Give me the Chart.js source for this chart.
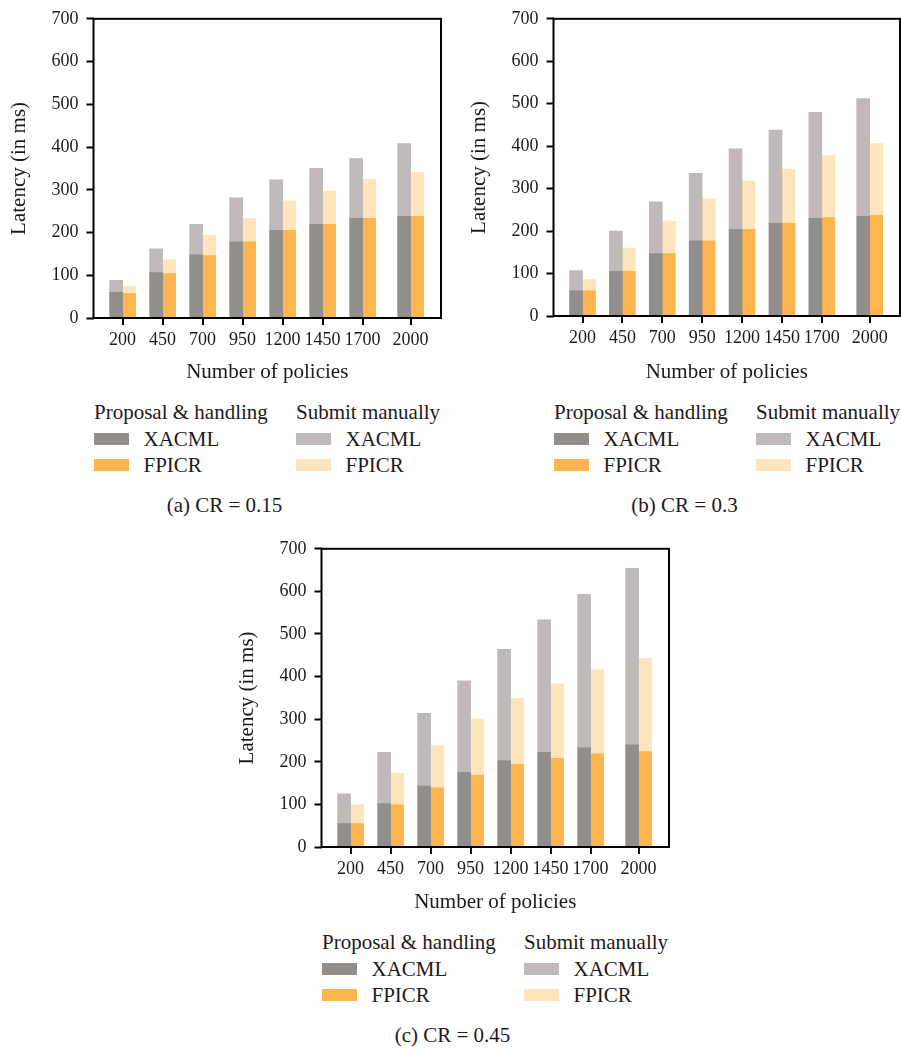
<!DOCTYPE html>
<html>
<head>
<meta charset="utf-8">
<script src="https://cdn.jsdelivr.net/npm/chart.js@4/dist/chart.umd.min.js"></script>
<style>
  html, body { margin: 0; padding: 0; background: #ffffff; }
  body { width: 901px; height: 1049px; position: relative; overflow: hidden;
         font-family: "Liberation Serif", "Times New Roman", serif; color: #1e1a1b; }
  canvas { position: absolute; }
  .txt { position: absolute; font-size: 21px; line-height: 24px; white-space: nowrap; }
  .sw { position: absolute; width: 35px; height: 12px; }
</style>
</head>
<body>
<canvas id="cA" width="450" height="390" style="left:0px;top:0px"></canvas>
<canvas id="cB" width="441" height="390" style="left:460px;top:0px"></canvas>
<canvas id="cC" width="450" height="390" style="left:228px;top:530px"></canvas>
<div id="legends"></div>
<script>
// Number of policies (x positions of the bar pairs)
const policies = [200, 450, 700, 950, 1200, 1450, 1700, 2000];
const yTicks = [0, 100, 200, 300, 400, 500, 600, 700];

// (a) CR = 0.15 — latency in ms
const a_xacmlHandling = [60, 106, 148, 178, 205, 219, 233, 238];
const a_xacmlManual   = [28, 56, 71, 103, 118, 131, 140, 170];
const a_fpicrHandling = [58, 104, 146, 178, 205, 219, 233, 238];
const a_fpicrManual   = [16, 32, 48, 55, 69, 78, 92, 103];

// (b) CR = 0.3
const b_xacmlHandling = [59, 105, 147, 177, 204, 218, 230, 235];
const b_xacmlManual   = [48, 95, 122, 159, 190, 220, 250, 277];
const b_fpicrHandling = [59, 105, 147, 177, 204, 218, 232, 237];
const b_fpicrManual   = [27, 55, 76, 99, 114, 128, 146, 169];

// (c) CR = 0.45
const c_xacmlHandling = [55, 102, 143, 175, 203, 222, 233, 240];
const c_xacmlManual   = [70, 120, 171, 215, 261, 311, 360, 414];
const c_fpicrHandling = [55, 99, 139, 169, 194, 208, 219, 224];
const c_fpicrManual   = [44, 74, 99, 131, 155, 175, 197, 219];

const groupTitles = ["Proposal & handling", "Submit manually"];
const methods = ["XACML", "FPICR"];
const captions = ["(a) CR = 0.15", "(b) CR = 0.3", "(c) CR = 0.45"];
const xTitle = "Number of policies";
const yTitle = "Latency (in ms)";

const COLORS = {
  xacmlHandling: "#928e8b",
  xacmlManual:   "#bfbab9",
  fpicrHandling: "#fdb54f",
  fpicrManual:   "#fee5bb"
};
const INK = "#1e1a1b";
const FONT = "'Liberation Serif', 'Times New Roman', serif";

const pts = arr => arr.map((v, i) => ({ x: policies[i], y: v }));

// Frame around the plotting area plus outward tick marks under each policy count
const framePlugin = {
  id: "frame",
  afterDatasetsDraw(chart) {
    const { ctx, chartArea: a } = chart;
    const xs = chart.scales.x;
    ctx.save();
    ctx.strokeStyle = "#000";
    ctx.lineWidth = 2;
    ctx.strokeRect(a.left, a.top, a.right - a.left, a.bottom - a.top);
    ctx.beginPath();
    xs.ticks.forEach(t => {
      const px = Math.round(xs.getPixelForValue(t.value));
      ctx.moveTo(px, a.bottom);
      ctx.lineTo(px, a.bottom + 7);
    });
    ctx.stroke();
    ctx.restore();
  }
};

function makeChart(id, d, padRight, xHeight) {
  return new Chart(document.getElementById(id), {
    type: "bar",
    data: {
      datasets: [
        { label: "XACML handling", stack: "xacml", data: pts(d[0]), backgroundColor: COLORS.xacmlHandling },
        { label: "XACML manual",   stack: "xacml", data: pts(d[1]), backgroundColor: COLORS.xacmlManual },
        { label: "FPICR handling", stack: "fpicr", data: pts(d[2]), backgroundColor: COLORS.fpicrHandling },
        { label: "FPICR manual",   stack: "fpicr", data: pts(d[3]), backgroundColor: COLORS.fpicrManual }
      ]
    },
    options: {
      responsive: false,
      animation: false,
      devicePixelRatio: 1,
      barThickness: 13,
      borderWidth: 0,
      layout: { padding: { left: 0, right: padRight, top: 14, bottom: 0 } },
      plugins: { legend: { display: false }, tooltip: { enabled: false } },
      scales: {
        x: {
          type: "linear",
          stacked: true,
          offset: false,
          min: 18,
          max: 2190,
          afterBuildTicks: s => { s.ticks = policies.map(v => ({ value: v })); },
          afterFit: s => { s.height = xHeight; },
          ticks: {
            autoSkip: false, maxRotation: 0, padding: 4, color: INK,
            font: { family: FONT, size: 18 },
            callback: v => String(v)
          },
          grid: { offset: false, drawOnChartArea: false, drawTicks: true, tickLength: 7, tickWidth: 2, tickColor: "rgba(0,0,0,0)" },
          border: { display: false },
          title: { display: true, text: xTitle, color: INK, font: { family: FONT, size: 21 }, padding: { top: 0, bottom: 5 } }
        },
        y: {
          stacked: true,
          min: 0,
          max: 700,
          afterBuildTicks: s => { s.ticks = yTicks.map(v => ({ value: v })); },
          afterFit: s => { s.width = 93.5; },
          ticks: { padding: 8, color: INK, font: { family: FONT, size: 18 } },
          grid: { offset: false, drawOnChartArea: false, drawTicks: true, tickLength: 7, tickWidth: 2, tickColor: "#000" },
          border: { display: false },
          title: { display: true, text: yTitle, color: INK, font: { family: FONT, size: 21 }, padding: { top: 7, bottom: 0 } }
        }
      }
    },
    plugins: [framePlugin]
  });
}

makeChart("cA", [a_xacmlHandling, a_xacmlManual, a_fpicrHandling, a_fpicrManual], 9, 72);
makeChart("cB", [b_xacmlHandling, b_xacmlManual, b_fpicrHandling, b_fpicrManual], 1, 74);
makeChart("cC", [c_xacmlHandling, c_xacmlManual, c_fpicrHandling, c_fpicrManual], 9, 73);

// Legend blocks and captions below each panel (L = plot left, T = plot top)
const panels = [
  { L: 93.5, T: 14 },
  { L: 553.5, T: 14 },
  { L: 321.5, T: 544 }
];
const host = document.getElementById("legends");
function addText(text, left, cy, center) {
  const el = document.createElement("div");
  el.className = "txt";
  el.textContent = text;
  el.style.top = (cy - 12) + "px";
  el.style.left = left + "px";
  if (center) el.style.transform = "translateX(-50%)";
  host.appendChild(el);
}
function addSwatch(color, left, cy) {
  const el = document.createElement("div");
  el.className = "sw";
  el.style.background = color;
  el.style.left = left + "px";
  el.style.top = (cy - 6) + "px";
  host.appendChild(el);
}
const swatchColors = [
  [COLORS.xacmlHandling, COLORS.fpicrHandling],
  [COLORS.xacmlManual, COLORS.fpicrManual]
];
panels.forEach((p, k) => {
  [0, 1].forEach(col => {
    const x0 = p.L + (col === 0 ? 0.5 : 202.5);
    addText(groupTitles[col], x0, p.T + 397.7);
    methods.forEach((m, r) => {
      const cy = p.T + 425 + r * 26;
      addSwatch(swatchColors[col][r], x0, cy);
      addText(m, x0 + 49.5, cy);
    });
  });
  addText(captions[k], p.L + 131, p.T + 491, true);
});
</script>
</body>
</html>
